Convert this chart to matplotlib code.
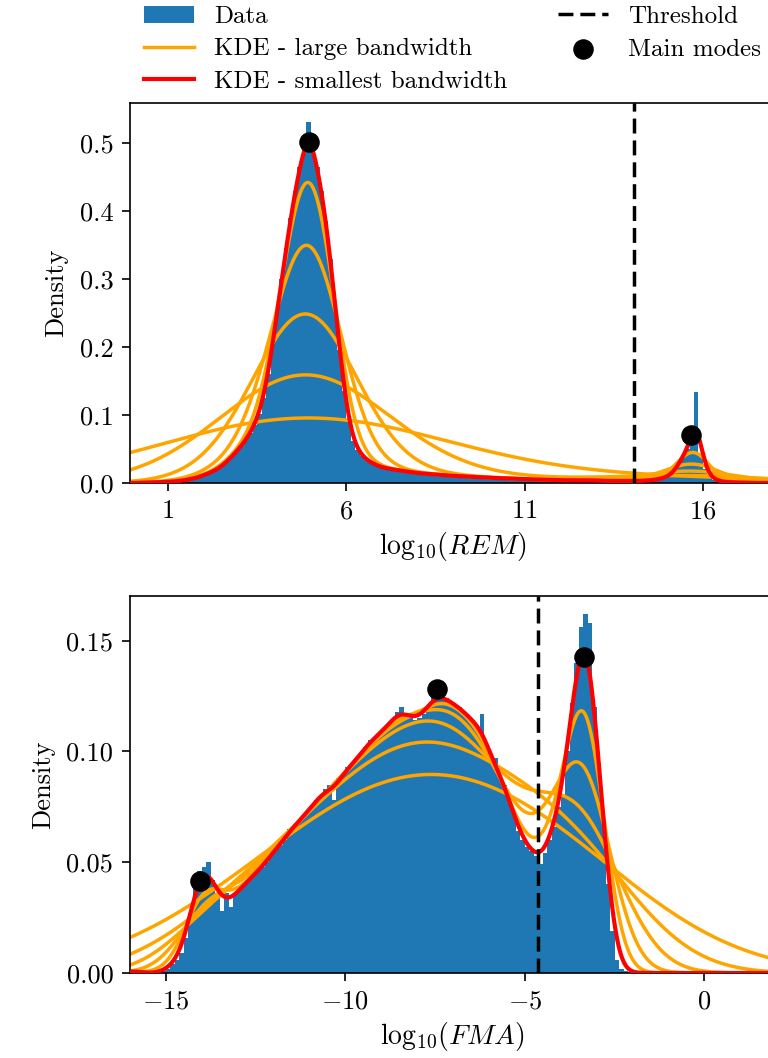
import numpy as np
import matplotlib
matplotlib.use("Agg")
import matplotlib.pyplot as plt

# ---------------- data ----------------
rem_bin_start = 0.0
rem_bin_width = 0.125
rem_density = [
    0.000, 0.000, 0.001, 0.001, 0.001, 0.001, 0.001, 0.002,
    0.002, 0.002, 0.003, 0.004, 0.005, 0.006, 0.008, 0.010,
    0.013, 0.015, 0.018, 0.022, 0.027, 0.033, 0.040, 0.047,
    0.055, 0.063, 0.074, 0.086, 0.102, 0.125, 0.160, 0.205,
    0.250, 0.300, 0.345, 0.390, 0.430, 0.465, 0.490, 0.531,
    0.495, 0.465, 0.430, 0.385, 0.330, 0.260, 0.195, 0.135,
    0.090, 0.062, 0.048, 0.040, 0.034, 0.030, 0.027, 0.024,
    0.022, 0.021, 0.020, 0.019, 0.018, 0.017, 0.016, 0.015,
    0.014, 0.014, 0.013, 0.013, 0.012, 0.012, 0.011, 0.011,
    0.010, 0.010, 0.010, 0.009, 0.009, 0.009, 0.008, 0.008,
    0.008, 0.007, 0.007, 0.007, 0.007, 0.006, 0.006, 0.006,
    0.006, 0.005, 0.005, 0.005, 0.005, 0.005, 0.005, 0.004,
    0.004, 0.004, 0.004, 0.004, 0.004, 0.004, 0.004, 0.004,
    0.004, 0.003, 0.003, 0.003, 0.003, 0.003, 0.003, 0.003,
    0.003, 0.003, 0.003, 0.004, 0.004, 0.005, 0.006, 0.008,
    0.010, 0.016, 0.026, 0.040, 0.050, 0.056, 0.134, 0.042,
    0.020, 0.010, 0.005, 0.003, 0.002, 0.001, 0.001, 0.001,
    0.001, 0.001, 0.000, 0.000, 0.000, 0.000, 0.000, 0.000,
]

fma_bin_start = -16.0
fma_bin_width = 0.125
fma_density = [
    0.002, 0.001, 0.000, 0.000, 0.000, 0.000, 0.000, 0.001,
    0.002, 0.004, 0.006, 0.009, 0.016, 0.027, 0.040, 0.046,
    0.048, 0.050, 0.042, 0.036, 0.028, 0.036, 0.030, 0.036,
    0.038, 0.040, 0.042, 0.044, 0.046, 0.048, 0.050, 0.054,
    0.056, 0.058, 0.060, 0.065, 0.066, 0.068, 0.070, 0.073,
    0.075, 0.078, 0.080, 0.083, 0.085, 0.078, 0.088, 0.090,
    0.093, 0.094, 0.096, 0.099, 0.102, 0.105, 0.106, 0.108,
    0.109, 0.112, 0.114, 0.118, 0.120, 0.117, 0.115, 0.114,
    0.115, 0.117, 0.120, 0.125, 0.127, 0.125, 0.124, 0.122,
    0.121, 0.120, 0.118, 0.116, 0.113, 0.110, 0.117, 0.100,
    0.095, 0.097, 0.088, 0.085, 0.078, 0.073, 0.064, 0.060,
    0.057, 0.055, 0.053, 0.049, 0.054, 0.060, 0.066, 0.075,
    0.080, 0.100, 0.122, 0.140, 0.156, 0.162, 0.158, 0.120,
    0.095, 0.068, 0.040, 0.019, 0.006, 0.002, 0.001, 0.000,
]

# KDE bandwidths: first is the smallest (red), others large (orange)
rem_bandwidths = [0.15, 0.38, 0.72, 1.25, 2.2, 3.9]
fma_bandwidths = [0.22, 0.42, 0.68, 1.1, 1.8, 3.0]

rem_threshold = 14.06
fma_threshold = -4.62

rem_modes_x = [4.96, 15.66]
rem_modes_y = [0.502, 0.071]
fma_modes_x = [-14.05, -7.44, -3.34]
fma_modes_y = [0.0415, 0.128, 0.1425]

rem_xlim = (-0.065, 18.02)
fma_xlim = (-16.0, 1.97)
rem_ylim = (0, 0.559)
fma_ylim = (0, 0.1702)
rem_xticks = [1, 6, 11, 16]
fma_xticks = [-15, -10, -5, 0]
rem_yticks = [0.0, 0.1, 0.2, 0.3, 0.4, 0.5]
fma_yticks = [0.00, 0.05, 0.10, 0.15]

# ---------------- style ----------------
plt.rcParams["font.family"] = "serif"
plt.rcParams["font.serif"] = ["cmr10"]
plt.rcParams["mathtext.fontset"] = "cm"
plt.rcParams["axes.formatter.use_mathtext"] = True
plt.rcParams["font.size"] = 18
plt.rcParams["axes.unicode_minus"] = True

BLUE = "#1f77b4"
ORANGE = "orange"
RED = "red"


def kde(grid, start, width, dens, bw):
    dens = np.asarray(dens, dtype=float)
    centers = start + width * (np.arange(len(dens)) + 0.5)
    w = dens * width
    z = (grid[:, None] - centers[None, :]) / bw
    return (np.exp(-0.5 * z ** 2) / (bw * np.sqrt(2 * np.pi))) @ w


fig = plt.figure(figsize=(7.68, 10.58), dpi=100)
W, H = 768.0, 1058.0
ax1 = fig.add_axes([130 / W, 1 - 483 / H, 645 / W, 380 / H])
ax2 = fig.add_axes([130 / W, 1 - 973 / H, 645 / W, 377 / H])


def panel(ax, start, width, dens, bws, thr, mx, my, xlim, ylim, xticks, yticks,
          xlabel, yfmt):
    edges = start + width * np.arange(len(dens) + 1)
    ax.stairs(dens, edges, fill=True, color=BLUE, label="Data", zorder=1)
    grid = np.linspace(xlim[0], xlim[1], 1500)
    for i, bw in enumerate(bws[1:][::-1]):
        ax.plot(grid, kde(grid, start, width, dens, bw), color=ORANGE, lw=2.5,
                label="KDE - large bandwidth" if i == 0 else None, zorder=2)
    ax.plot(grid, kde(grid, start, width, dens, bws[0]), color=RED, lw=3,
            label="KDE - smallest bandwidth", zorder=3)
    ax.axvline(thr, color="black", ls=(0, (4.3, 2.0)), lw=2.5,
               label="Threshold", zorder=4)
    ax.scatter(mx, my, s=190, color="black", zorder=5, label="Main modes")
    ax.set_xlim(*xlim)
    ax.set_ylim(*ylim)
    ax.set_xticks(xticks)
    ax.set_yticks(yticks)
    ax.set_yticklabels([yfmt.format(v) for v in yticks])
    ax.set_xlabel(xlabel, fontsize=20, labelpad=5)
    ax.set_ylabel("Density", fontsize=19, labelpad=8)
    for s in ax.spines.values():
        s.set_linewidth(1.2)
    ax.tick_params(width=1.2, length=6, labelsize=19, pad=6)


panel(ax1, rem_bin_start, rem_bin_width, rem_density, rem_bandwidths,
      rem_threshold, rem_modes_x, rem_modes_y, rem_xlim, rem_ylim,
      rem_xticks, rem_yticks, r"$\mathrm{log}_{10}(REM)$", "{:.1f}")
panel(ax2, fma_bin_start, fma_bin_width, fma_density, fma_bandwidths,
      fma_threshold, fma_modes_x, fma_modes_y, fma_xlim, fma_ylim,
      fma_xticks, fma_yticks, r"$\mathrm{log}_{10}(FMA)$", "{:.2f}")

# legend: column 1 Data, KDE large, KDE smallest; column 2 Threshold, Main modes
h, l = ax1.get_legend_handles_labels()
order = ["Data", "KDE - large bandwidth", "KDE - smallest bandwidth",
         "Threshold", "Main modes"]
hh = [h[l.index(o)] for o in order]
ax1.legend(hh, order, ncol=2, frameon=False, loc="lower center",
           bbox_to_anchor=(0.5, 1.0), borderaxespad=0.0, fontsize=18,
           labelspacing=0.4)

fig.savefig("out.png", dpi=100)
